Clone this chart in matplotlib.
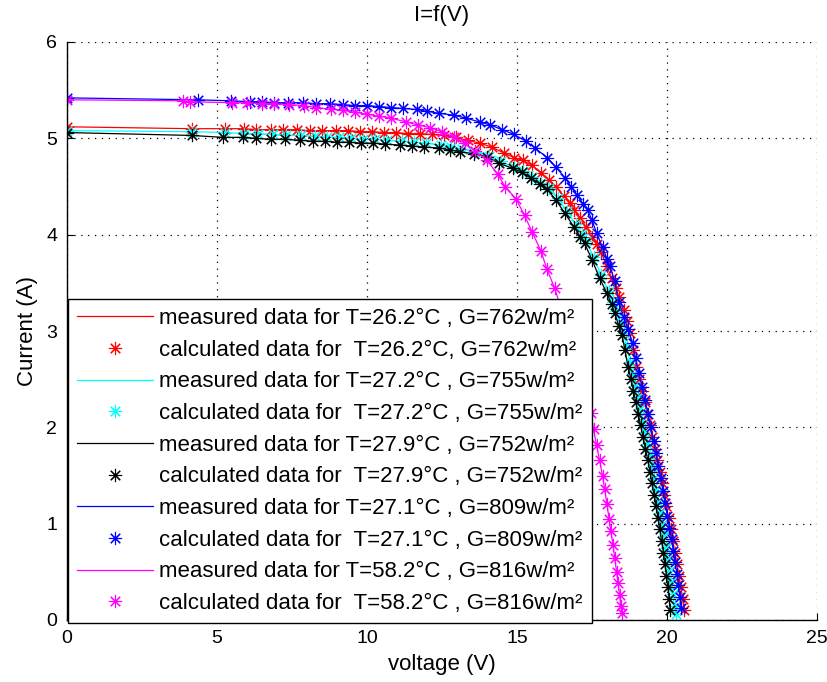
import matplotlib
matplotlib.use('Agg')
import matplotlib.pyplot as plt

plt.rcParams['font.family'] = ['Liberation Sans', 'DejaVu Sans']

v_red = [0, 4.15, 5.25, 5.9, 6.3, 6.8, 7.2, 7.65, 8.1, 8.5, 8.95, 9.35, 9.75, 10.15, 10.55,
         10.95, 11.35, 11.75, 12.15, 12.55, 12.95, 13.35, 13.75, 14.15, 14.55, 14.9, 15.2,
         15.5, 15.8, 16.05, 16.3, 16.55, 16.75, 16.9, 17.1, 17.3, 17.5, 17.65, 17.8, 18.0,
         18.15, 18.3, 18.4, 18.55, 18.65, 18.75, 18.87, 18.97, 19.07, 19.16, 19.25, 19.34,
         19.43, 19.51, 19.59, 19.67, 19.75, 19.83, 19.91, 19.98, 20.05, 20.12, 20.19, 20.26,
         20.33, 20.4, 20.46, 20.52, 20.58]
i_red = [5.12, 5.10, 5.10, 5.10, 5.09, 5.09, 5.09, 5.09, 5.08, 5.08, 5.08, 5.08, 5.07, 5.07,
         5.06, 5.06, 5.05, 5.05, 5.04, 5.03, 5.01, 4.98, 4.95, 4.91, 4.85, 4.80, 4.77, 4.72,
         4.64, 4.57, 4.50, 4.40, 4.33, 4.26, 4.17, 4.08, 3.98, 3.90, 3.82, 3.67, 3.55, 3.45,
         3.35, 3.22, 3.10, 2.98, 2.80, 2.63, 2.50, 2.38, 2.26, 2.14, 2.02, 1.90, 1.78, 1.66,
         1.54, 1.42, 1.30, 1.18, 1.06, 0.94, 0.82, 0.70, 0.58, 0.46, 0.34, 0.22, 0.10]

v_cyan = [0, 4.15, 5.25, 5.9, 6.35, 6.85, 7.3, 7.8, 8.25, 8.65, 9.05, 9.45, 9.85, 10.25,
          10.65, 11.15, 11.55, 11.95, 12.45, 12.8, 13.15, 13.6, 14.05, 14.45, 14.9, 15.2,
          15.5, 15.8, 16.05, 16.35, 16.65, 16.95, 17.15, 17.3, 17.55, 17.8, 18.05, 18.2,
          18.3, 18.45, 18.56, 18.66, 18.76, 18.86, 18.94, 19.02, 19.1, 19.18, 19.26, 19.34,
          19.42, 19.49, 19.56, 19.63, 19.7, 19.77, 19.83, 19.89, 19.95, 20.01, 20.07, 20.13,
          20.19, 20.25, 20.3]
i_cyan = [5.08, 5.07, 5.06, 5.05, 5.05, 5.04, 5.03, 5.03, 5.02, 5.01, 5.01, 5.00, 4.99, 4.99,
          4.98, 4.97, 4.96, 4.95, 4.93, 4.91, 4.89, 4.86, 4.82, 4.76, 4.70, 4.66, 4.60, 4.54,
          4.48, 4.38, 4.25, 4.11, 4.01, 3.93, 3.77, 3.58, 3.42, 3.30, 3.21, 3.08, 2.98, 2.84,
          2.68, 2.55, 2.43, 2.31, 2.19, 2.07, 1.95, 1.83, 1.71, 1.59, 1.47, 1.35, 1.23, 1.11,
          0.99, 0.87, 0.75, 0.63, 0.51, 0.39, 0.27, 0.15, 0.06]

v_black = [0, 4.15, 5.2, 5.85, 6.3, 6.8, 7.25, 7.75, 8.2, 8.6, 9.0, 9.4, 9.8, 10.2, 10.6,
           11.1, 11.5, 11.9, 12.4, 12.75, 13.1, 13.55, 14.0, 14.4, 14.85, 15.15, 15.45,
           15.75, 16.0, 16.3, 16.6, 16.9, 17.1, 17.25, 17.5, 17.75, 18.0, 18.15, 18.25, 18.4,
           18.5, 18.6, 18.7, 18.8, 18.88, 18.96, 19.04, 19.12, 19.2, 19.28, 19.36, 19.43,
           19.5, 19.57, 19.64, 19.7, 19.76, 19.82, 19.88, 19.93, 19.98, 20.03, 20.07, 20.11]
i_black = [5.06, 5.03, 5.01, 5.01, 5.00, 4.99, 4.99, 4.98, 4.97, 4.97, 4.96, 4.96, 4.95,
           4.95, 4.94, 4.93, 4.92, 4.91, 4.90, 4.88, 4.86, 4.84, 4.81, 4.74, 4.69, 4.65,
           4.59, 4.53, 4.47, 4.36, 4.22, 4.08, 3.98, 3.91, 3.74, 3.55, 3.39, 3.28, 3.19,
           3.05, 2.96, 2.80, 2.63, 2.50, 2.38, 2.26, 2.14, 2.02, 1.90, 1.78, 1.66, 1.54,
           1.42, 1.30, 1.18, 1.06, 0.94, 0.82, 0.70, 0.58, 0.46, 0.34, 0.22, 0.10]

v_blue = [0, 4.35, 5.45, 6.1, 6.5, 6.9, 7.35, 7.85, 8.3, 8.75, 9.2, 9.6, 10.0, 10.4, 10.8,
          11.2, 11.65, 12.0, 12.4, 12.9, 13.3, 13.75, 14.1, 14.5, 14.9, 15.3, 15.6, 16.0,
          16.3, 16.6, 16.8, 17.0, 17.2, 17.35, 17.5, 17.65, 17.85, 18.0, 18.1, 18.25, 18.4,
          18.55, 18.7, 18.85, 18.95, 19.07, 19.17, 19.27, 19.37, 19.46, 19.55, 19.63, 19.71,
          19.79, 19.87, 19.94, 20.01, 20.08, 20.15, 20.21, 20.27, 20.33, 20.38, 20.43, 20.47]
i_blue = [5.42, 5.40, 5.39, 5.38, 5.38, 5.37, 5.37, 5.37, 5.36, 5.36, 5.35, 5.34, 5.34, 5.33,
          5.32, 5.31, 5.30, 5.28, 5.26, 5.24, 5.21, 5.17, 5.14, 5.09, 5.04, 4.97, 4.90, 4.80,
          4.70, 4.59, 4.50, 4.41, 4.32, 4.26, 4.15, 4.02, 3.87, 3.75, 3.67, 3.52, 3.30, 3.15,
          3.02, 2.88, 2.72, 2.56, 2.42, 2.28, 2.14, 2.00, 1.86, 1.73, 1.60, 1.47, 1.34, 1.21,
          1.08, 0.96, 0.84, 0.72, 0.60, 0.48, 0.36, 0.24, 0.12]

v_magenta = [0, 3.85, 4.1, 5.5, 6.0, 6.5, 6.9, 7.4, 7.9, 8.3, 8.8, 9.2, 9.6, 10.0, 10.4,
             10.8, 11.3, 11.7, 12.1, 12.5, 12.9, 13.25, 13.6, 14.0, 14.35, 14.6, 14.97,
             15.25, 15.5, 15.8, 16.0, 16.25, 16.45, 16.65, 16.85, 17.0, 17.15, 17.3, 17.45,
             17.55, 17.65, 17.75, 17.85, 17.92, 18.0, 18.07, 18.13, 18.2, 18.26, 18.32,
             18.37, 18.42, 18.46, 18.5]
i_magenta = [5.40, 5.39, 5.38, 5.37, 5.37, 5.36, 5.36, 5.35, 5.34, 5.32, 5.30, 5.29, 5.27,
             5.25, 5.23, 5.21, 5.17, 5.14, 5.11, 5.07, 5.01, 4.95, 4.87, 4.77, 4.63, 4.50,
             4.37, 4.20, 4.03, 3.83, 3.64, 3.45, 3.25, 3.05, 2.85, 2.68, 2.50, 2.32, 2.15,
             1.98, 1.82, 1.66, 1.50, 1.36, 1.20, 1.05, 0.92, 0.78, 0.64, 0.50, 0.38, 0.26,
             0.15, 0.07]

temps = ['26.2', '27.2', '27.9', '27.1', '58.2']
irradiance = ['762', '755', '752', '809', '816']
colors = ['#ff0000', '#00ffff', '#000000', '#0000ff', '#ff00ff']

series = [(v_red, i_red), (v_cyan, i_cyan), (v_black, i_black),
          (v_blue, i_blue), (v_magenta, i_magenta)]

FS = 16
TICK_FS = 14
# matlab style asterisk (plus + cross)
star = (8, 2, 0)

fig = plt.figure(figsize=(8.27, 6.82), dpi=100)
ax = fig.add_axes([67 / 827, 62 / 682, 750 / 827, 578 / 682])

for k, (v, i) in enumerate(series):
    c = colors[k]
    ax.plot(v, i, '-', color=c, lw=0.9,
            label='measured data for T=%s°C , G=%sw/m²' % (temps[k], irradiance[k]))
    if k == 0:
        calc_label = 'calculated data for  T=%s°C, G=%sw/m²' % (temps[k], irradiance[k])
    else:
        calc_label = 'calculated data for  T=%s°C , G=%sw/m²' % (temps[k], irradiance[k])
    ax.plot(v, i, linestyle='none', marker=star, ms=9.5, mew=0.8,
            color=c, label=calc_label)

ax.set_xlim(0, 25)
ax.set_ylim(0, 6)
ax.set_xticks([0, 5, 10, 15, 20, 25])
ax.set_yticks([0, 1, 2, 3, 4, 5, 6])
ax.grid(True, color='black', linestyle=(0, (1, 4.5)), linewidth=0.9)
ax.spines['top'].set_visible(False)
ax.spines['right'].set_visible(False)
for s in ['left', 'bottom']:
    ax.spines[s].set_linewidth(1.0)
ax.tick_params(direction='in', length=5, labelsize=TICK_FS, pad=7)

ax.set_title('I=f(V)', fontsize=FS, pad=15)
ax.set_xlabel('voltage (V)', fontsize=FS, labelpad=5)
ax.set_ylabel('Current (A)', fontsize=FS, labelpad=6)

leg = ax.legend(loc='lower left', bbox_to_anchor=(0.0015, -0.005), borderaxespad=0,
                fontsize=FS, handlelength=3.4, handletextpad=0.3, labelspacing=0.48,
                borderpad=0.4, fancybox=False, framealpha=1, edgecolor='black')
leg.get_frame().set_linewidth(1.0)

fig.savefig('out.png', dpi=100)
